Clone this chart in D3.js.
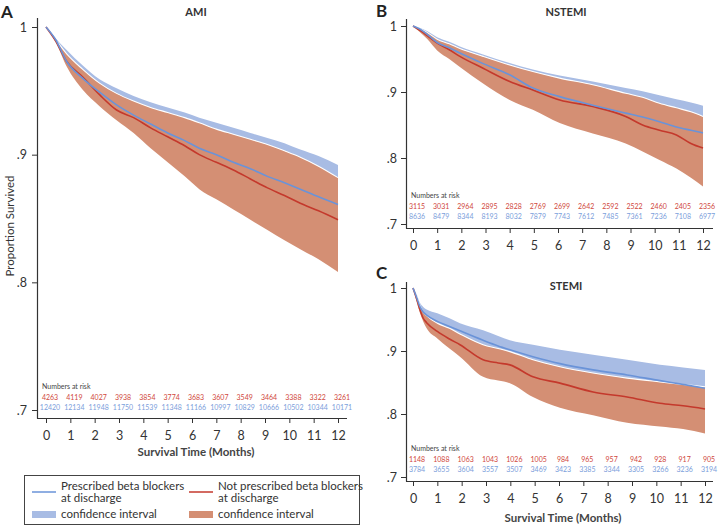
<!DOCTYPE html>
<html><head><meta charset="utf-8">
<script src="https://cdn.jsdelivr.net/npm/d3@7"></script>
<style>
html,body{margin:0;padding:0;background:#fff;}
svg{display:block;font-family:Lato,"Noto Sans",sans-serif;}
</style></head>
<body><svg id="c" width="718" height="526"></svg>
<script>
// ---------- data ----------
const monthTicks = [0,1,2,3,4,5,6,7,8,9,10,11,12];
const yTicks = [0.7,0.8,0.9,1.0];

// Panel A – AMI
const tA      = [0,0.4,0.85,1.5,2.2,2.9,3.6,4.3,5.0,5.7,6.3,7.0,7.7,8.4,9.1,9.8,10.45,11.2,12];
const blueA   = [1.0,0.990,0.973,0.960,0.949,0.939,0.931,0.924,0.917,0.911,0.905,0.900,0.894,0.889,0.883,0.878,0.873,0.867,0.861];
const redA    = [1.0,0.989,0.973,0.961,0.947,0.935,0.929,0.921,0.914,0.907,0.900,0.894,0.888,0.881,0.874,0.868,0.862,0.856,0.849];
const blueUpA = [1.0,0.991,0.982,0.970,0.959,0.952,0.946,0.941,0.937,0.933,0.929,0.925,0.921,0.917,0.913,0.909,0.904,0.899,0.892];
const blueLoA = [1.0,0.989,0.974,0.957,0.943,0.933,0.925,0.913,0.903,0.894,0.886,0.878,0.869,0.862,0.855,0.848,0.842,0.836,0.830];
const redUpA  = [1.0,0.990,0.979,0.967,0.956,0.948,0.942,0.937,0.933,0.929,0.925,0.920,0.916,0.912,0.908,0.903,0.898,0.891,0.882];
const redLoA  = [1.0,0.988,0.969,0.951,0.938,0.927,0.917,0.905,0.894,0.883,0.873,0.865,0.857,0.849,0.841,0.833,0.826,0.818,0.808];
const riskRedA  = [4263,4119,4027,3938,3854,3774,3683,3607,3549,3464,3388,3322,3261];
const riskBlueA = [12420,12134,11948,11750,11539,11348,11166,10997,10829,10666,10502,10344,10171];

// Panel B – NSTEMI
const tB      = [0,0.3,0.6,1.0,1.5,1.94,2.9,4.0,4.96,6.07,7.44,8.8,9.5,10.2,10.9,11.5,12];
const blueB   = [1.0,0.995,0.987,0.975,0.967,0.959,0.943,0.926,0.906,0.893,0.880,0.868,0.862,0.855,0.847,0.842,0.838];
const redB    = [1.0,0.993,0.985,0.974,0.964,0.954,0.936,0.916,0.903,0.888,0.878,0.863,0.850,0.842,0.835,0.822,0.815];
const blueUpB = [1.0,0.997,0.992,0.983,0.976,0.969,0.957,0.944,0.934,0.925,0.916,0.906,0.901,0.895,0.889,0.884,0.879];
const blueLoB = [1.0,0.993,0.984,0.969,0.958,0.949,0.929,0.907,0.880,0.862,0.846,0.832,0.823,0.815,0.807,0.801,0.797];
const redUpB  = [1.0,0.996,0.990,0.980,0.973,0.966,0.954,0.941,0.931,0.921,0.911,0.898,0.892,0.883,0.876,0.870,0.863];
const redLoB  = [1.0,0.990,0.980,0.963,0.950,0.938,0.913,0.888,0.873,0.853,0.837,0.822,0.810,0.797,0.784,0.770,0.757];
const riskRedB  = [3115,3031,2964,2895,2828,2769,2699,2642,2592,2522,2460,2405,2356];
const riskBlueB = [8636,8479,8344,8193,8032,7879,7743,7612,7485,7361,7236,7108,6977];

// Panel C – STEMI
const tC      = [0,0.15,0.29,0.42,0.56,1.0,1.5,1.93,2.88,3.5,3.98,4.93,6.04,7.4,8.8,10.15,11.1,12];
const blueC   = [1.0,0.985,0.970,0.962,0.957,0.947,0.939,0.932,0.917,0.908,0.902,0.891,0.880,0.870,0.862,0.853,0.847,0.841];
const redC    = [1.0,0.983,0.965,0.952,0.945,0.931,0.919,0.910,0.886,0.881,0.878,0.859,0.849,0.835,0.827,0.817,0.813,0.808];
const blueUpC = [1.0,0.990,0.976,0.970,0.966,0.960,0.952,0.944,0.933,0.924,0.917,0.910,0.902,0.894,0.886,0.878,0.874,0.870];
const blueLoC = [1.0,0.981,0.965,0.956,0.950,0.935,0.926,0.920,0.902,0.894,0.888,0.874,0.860,0.848,0.840,0.830,0.824,0.815];
const redUpC  = [1.0,0.988,0.972,0.962,0.956,0.944,0.936,0.927,0.910,0.904,0.899,0.886,0.875,0.865,0.857,0.851,0.847,0.843];
const redLoC  = [1.0,0.978,0.960,0.947,0.936,0.920,0.904,0.891,0.859,0.853,0.849,0.827,0.810,0.798,0.786,0.780,0.776,0.769];
const riskRedC  = [1148,1088,1063,1043,1026,1005,984,965,957,942,928,917,905];
const riskBlueC = [3784,3655,3604,3557,3507,3469,3423,3385,3344,3305,3266,3236,3194];

const legendLabels = [["Prescribed beta blockers","at discharge"],["Not prescribed beta blockers","at discharge"]];

// ---------- style ----------
const C = {blueLine:"#6a93d8", redLine:"#c4392c", blueBand:"#a8bce4", redBand:"#d48f74", text:"#333", axis:"#333", riskRed:"#d0473c", riskBlue:"#7b9edb"};

const svg = d3.select("#c");
const fmtY = v => v === 1 ? "1" : d3.format(".1f")(v).replace(/^0/,"");

function panel(o){
  const g = svg.append("g");
  const x = d3.scaleLinear().domain([0,12]).range([o.x0,o.x1]);
  const y = d3.scaleLinear().domain([0.7,1.0]).range([o.y07,o.y1]);
  const pts = (t,v) => t.map((d,i)=>[d,v[i]]);
  const area = (t,lo,hi) => d3.area().x((d,i)=>x(t[i])).y0((d,i)=>y(lo[i])).y1((d,i)=>y(hi[i])).curve(d3.curveMonotoneX)(t);
  const line = d3.line().x(d=>x(d[0])).y(d=>y(d[1])).curve(d3.curveMonotoneX);

  // bands
  g.append("path").attr("d",area(o.t,o.blueLo,o.blueUp)).attr("fill",C.blueBand);
  g.append("path").attr("d",area(o.t,o.redLo,o.redUp)).attr("fill",C.redBand);
  g.append("path").attr("d",line(pts(o.t,o.redUp))).attr("fill","none").attr("stroke","#fff").attr("stroke-width",1.1);
  // lines
  g.append("path").attr("d",line(pts(o.t,o.red))).attr("fill","none").attr("stroke",C.redLine).attr("stroke-width",1.6);
  g.append("path").attr("d",line(pts(o.t,o.blue))).attr("fill","none").attr("stroke",C.blueLine).attr("stroke-width",1.6);

  // axes lines
  g.append("line").attr("x1",o.ax+0.5).attr("x2",o.ax+0.5).attr("y1",o.axTop).attr("y2",o.axBot+0.5).attr("stroke",C.axis).attr("stroke-width",1.2);
  g.append("line").attr("x1",o.ax).attr("x2",o.axRight).attr("y1",o.axBot+0.5).attr("y2",o.axBot+0.5).attr("stroke",C.axis).attr("stroke-width",1.2);

  const ya = g.append("g").attr("transform",`translate(${o.ax},0)`)
    .call(d3.axisLeft(y).tickValues(yTicks).tickFormat(fmtY).tickSize(5).tickPadding(o.yPad));
  ya.select(".domain").remove();
  ya.selectAll("text").attr("font-size",12.5).attr("fill",C.text).attr("font-family","Lato,sans-serif");
  ya.selectAll("line").attr("stroke",C.axis);

  const xa = g.append("g").attr("transform",`translate(0,${o.axBot+1})`)
    .call(d3.axisBottom(x).tickValues(monthTicks).tickFormat(d3.format("d")).tickSize(4).tickPadding(8));
  xa.select(".domain").remove();
  xa.selectAll("text").attr("font-size",12.5).attr("fill",C.text).attr("font-family","Lato,sans-serif");
  xa.selectAll("line").attr("stroke",C.axis);

  // numbers at risk
  g.append("text").attr("x",o.ax+5).attr("y",o.riskY0).attr("font-size",7).attr("fill","#444").text("Numbers at risk");
  g.selectAll(null).data(o.riskRed).enter().append("text")
    .attr("x",(d,i)=>x(monthTicks[i])+4).attr("y",o.riskY0+11).attr("text-anchor","middle")
    .attr("font-size",7).attr("fill",C.riskRed).text(d=>d);
  g.selectAll(null).data(o.riskBlue).enter().append("text")
    .attr("x",(d,i)=>x(monthTicks[i])+4).attr("y",o.riskY0+21).attr("text-anchor","middle")
    .attr("font-size",7).attr("fill",C.riskBlue).text(d=>d);

  // title & letter
  g.append("text").attr("x",o.titleX).attr("y",o.titleY).attr("text-anchor","middle")
    .attr("font-size",11).attr("font-weight",700).attr("fill",C.text).text(o.title);
  g.append("text").attr("x",o.letterX).attr("y",o.letterY).attr("font-size",17).attr("font-weight",700)
    .attr("fill","#222").text(o.letter);
  if(o.xTitle){
    g.append("text").attr("x",(o.x0+o.x1)/2+4).attr("y",o.xTitleY).attr("text-anchor","middle")
      .attr("font-size",11.5).attr("font-weight",700).attr("fill","#444").text("Survival Time (Months)");
  }
}

panel({t:tA,blue:blueA,red:redA,blueUp:blueUpA,blueLo:blueLoA,redUp:redUpA,redLo:redLoA,riskRed:riskRedA,riskBlue:riskBlueA,
  x0:46,x1:338,y07:410,y1:27,ax:37,axTop:18,axBot:418,axRight:347,yPad:5,riskY0:389,
  title:"AMI",titleX:196,titleY:16,letter:"A",letterX:1,letterY:18,xTitle:true,xTitleY:456});
panel({t:tB,blue:blueB,red:redB,blueUp:blueUpB,blueLo:blueLoB,redUp:redUpB,redLo:redLoB,riskRed:riskRedB,riskBlue:riskBlueB,
  x0:413,x1:703,y07:224,y1:26,ax:406,axTop:19,axBot:228,axRight:713,yPad:4,riskY0:198,
  title:"NSTEMI",titleX:566,titleY:16,letter:"B",letterX:376,letterY:17,xTitle:false});
panel({t:tC,blue:blueC,red:redC,blueUp:blueUpC,blueLo:blueLoC,redUp:redUpC,redLo:redLoC,riskRed:riskRedC,riskBlue:riskBlueC,
  x0:413,x1:705,y07:477,y1:288,ax:406,axTop:282,axBot:481,axRight:713,yPad:4,riskY0:451,
  title:"STEMI",titleX:566,titleY:290,letter:"C",letterX:376,letterY:279,xTitle:true,xTitleY:522});

// y-axis label
svg.append("text").attr("transform","translate(14,226) rotate(-90)").attr("text-anchor","middle")
  .attr("font-size",11.5).attr("fill",C.text).text("Proportion Survived");

// legend
const lg = svg.append("g");
lg.append("rect").attr("x",24.5).attr("y",475.5).attr("width",335).attr("height",49).attr("fill","none").attr("stroke","#444").attr("stroke-width",1);
const items = [{x:32,line:C.blueLine,band:C.blueBand,lab:legendLabels[0]},{x:189,line:C.redLine,band:C.redBand,lab:legendLabels[1]}];
items.forEach(it=>{
  lg.append("line").attr("x1",it.x).attr("x2",it.x+24).attr("y1",492).attr("y2",492).attr("stroke",it.line).attr("stroke-width",1.5);
  lg.append("text").attr("x",it.x+29).attr("y",490).attr("font-size",11.5).attr("fill",C.text).text(it.lab[0]);
  lg.append("text").attr("x",it.x+29).attr("y",502).attr("font-size",11.5).attr("fill",C.text).text(it.lab[1]);
  lg.append("rect").attr("x",it.x).attr("y",511).attr("width",24).attr("height",7).attr("fill",it.band);
  lg.append("text").attr("x",it.x+29).attr("y",518).attr("font-size",11.5).attr("fill",C.text).text("confidence interval");
});
</script></body></html>
